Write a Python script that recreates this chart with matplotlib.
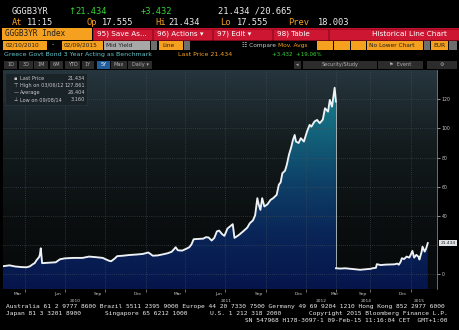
import numpy as np
import pandas as pd
import matplotlib
matplotlib.use("Agg")
import matplotlib.pyplot as plt
from matplotlib.patches import Rectangle, PathPatch
from matplotlib.path import Path
from matplotlib.colors import LinearSegmentedColormap

# --- data (GGGB3YR, mid yield) ---
dates_before = [
    "2010-02-10", "2010-02-25", "2010-03-10", "2010-03-25", "2010-04-05", "2010-04-12",
    "2010-04-19", "2010-04-23", "2010-04-28", "2010-05-03", "2010-05-05", "2010-05-07",
    "2010-05-10", "2010-05-25", "2010-06-10", "2010-06-20", "2010-07-01", "2010-07-20",
    "2010-08-10", "2010-08-25", "2010-09-10", "2010-09-25", "2010-10-08", "2010-10-14",
    "2010-10-22", "2010-10-28", "2010-11-10", "2010-11-25", "2010-12-10", "2010-12-25",
    "2011-01-07", "2011-01-17", "2011-01-28", "2011-02-10", "2011-02-20", "2011-03-01",
    "2011-03-07", "2011-03-10", "2011-03-15", "2011-03-25", "2011-04-05", "2011-04-10",
    "2011-04-15", "2011-04-20", "2011-05-01", "2011-05-12", "2011-05-18", "2011-05-24",
    "2011-05-31", "2011-06-06", "2011-06-12", "2011-06-17", "2011-06-24", "2011-06-29",
    "2011-07-06", "2011-07-18", "2011-07-22", "2011-08-01", "2011-08-10", "2011-08-20",
    "2011-08-26", "2011-09-02", "2011-09-07", "2011-09-12", "2011-09-15", "2011-09-19",
    "2011-09-23", "2011-09-28", "2011-10-05", "2011-10-12", "2011-10-18", "2011-10-26",
    "2011-10-31", "2011-11-04", "2011-11-08", "2011-11-14", "2011-11-18", "2011-11-23",
    "2011-11-28", "2011-12-02", "2011-12-06", "2011-12-09", "2011-12-15", "2011-12-20",
    "2011-12-27", "2012-01-03", "2012-01-09", "2012-01-13", "2012-01-20", "2012-01-26",
    "2012-02-01", "2012-02-08", "2012-02-13", "2012-02-20", "2012-02-24", "2012-02-29",
    "2012-03-06", "2012-03-09",
]
yield_before = [
    5.6, 6.2, 5.4, 5.0, 4.9, 5.5,
    7.0, 7.7, 10.0, 11.8, 13.5, 17.9,
    7.7, 8.0, 8.3, 10.4, 11.0, 11.3,
    11.3, 12.2, 11.8, 11.3, 9.5, 9.0,
    10.8, 12.5, 12.8, 13.3, 13.6, 14.0,
    15.0, 12.8, 13.0, 13.8, 14.5, 15.5,
    17.5, 18.6, 16.5, 16.3, 17.8, 18.6,
    20.5, 24.1, 24.3, 24.5, 25.5, 25.3,
    23.2, 25.0, 29.5, 30.0, 27.5, 26.4,
    31.4, 34.4, 25.0, 27.0, 29.3, 32.0,
    35.1, 37.0, 40.5, 52.2, 48.0, 44.2,
    52.2, 46.5, 48.0, 51.0, 52.2, 54.5,
    61.5, 63.0, 69.3, 71.0, 75.0, 82.0,
    87.0, 92.0, 95.5, 91.0, 90.0, 93.3,
    91.0, 97.8, 102.4, 101.2, 104.7, 105.8,
    103.6, 106.0, 113.8, 111.5, 119.5, 114.9,
    127.861, 118.4,
]
dates_after = [
    "2014-07-15", "2014-07-25", "2014-08-05", "2014-08-15", "2014-08-25", "2014-09-08",
    "2014-09-20", "2014-10-01", "2014-10-08", "2014-10-14", "2014-10-16", "2014-10-25",
    "2014-11-05", "2014-11-15", "2014-11-25", "2014-12-02", "2014-12-05", "2014-12-09",
    "2014-12-12", "2014-12-17", "2014-12-23", "2014-12-29", "2015-01-02", "2015-01-05",
    "2015-01-09", "2015-01-14", "2015-01-19", "2015-01-21", "2015-01-26", "2015-01-28",
    "2015-02-02", "2015-02-05", "2015-02-09",
]
yield_after = [
    4.2, 4.0, 4.2, 3.9, 3.6, 3.16,
    3.5, 3.8, 4.3, 4.5, 7.0, 6.4,
    6.7, 6.8, 6.9, 7.4, 6.6, 8.5,
    11.1, 10.5, 12.2, 11.5, 14.0, 16.1,
    11.5, 13.4, 12.0, 10.2, 15.5, 19.0,
    15.6, 17.5, 21.434,
]

month_labels = ["Mar", "Jun", "Sep", "Dec", "Mar", "Jun", "Sep", "Dec", "Mar", "Sep", "Dec"]
month_label_dates = ["2010-03-15", "2010-06-15", "2010-09-15", "2010-12-15", "2011-03-15",
                     "2011-06-15", "2011-09-15", "2011-12-15", "2012-03-05", "2014-09-15",
                     "2014-12-15"]
grid_dates = ["2010-04-01", "2010-07-01", "2010-10-01", "2011-01-01", "2011-04-01",
              "2011-07-01", "2011-10-01", "2012-01-01", "2012-03-09", "2014-10-01",
              "2015-01-01"]
year_labels = ["2010", "2011", "2012", "2014", "2015"]
year_label_dates = ["2010-07-24", "2011-07-02", "2012-02-04", "2014-09-22", "2015-01-20"]

yticks = [0, 40, 60, 80, 100, 120]

# --- broken time axis: the 2012-2014 hole is squeezed out ---
start = pd.Timestamp(dates_before[0])
gap_from = pd.Timestamp(dates_before[-1])
gap_to = pd.Timestamp(dates_after[0])


def to_x(ds):
    out = []
    for d in pd.to_datetime(ds):
        if d <= gap_from:
            out.append((d - start).days)
        else:
            out.append((gap_from - start).days + (d - gap_to).days)
    return np.array(out, dtype=float)


x_before = to_x(dates_before)
x_after = to_x(dates_after)
x = np.concatenate([x_before, x_after])
y = np.array(yield_before + yield_after)

W, H = 460, 330
fig = plt.figure(figsize=(4.6, 3.3), dpi=100, facecolor="black")

ORANGE = "#f5a01e"
GREEN = "#36d436"
WHITE = "#ececec"
MONO = "DejaVu Sans Mono"


def T(px, py, s, color=WHITE, size=5, family="DejaVu Sans", **kw):
    fig.text(px / W, 1 - py / H, s, color=color, fontsize=size, family=family,
             va="center", **kw)


def box(x0, y0, x1, y1, fc, ec="none", lw=0.5, z=1):
    fig.add_artist(Rectangle((x0 / W, 1 - y1 / H), (x1 - x0) / W, (y1 - y0) / H,
                             transform=fig.transFigure, facecolor=fc, edgecolor=ec,
                             linewidth=lw, zorder=z))


# header rows
T(12, 11, "GGGB3YR", WHITE, 6.3, MONO)
T(68, 11, "\u2191", GREEN, 6.3)
T(75, 11, "21.434", GREEN, 6.3, MONO)
T(141, 11, "+3.432", GREEN, 6.3, MONO)
T(218, 11, "21.434 /20.665", WHITE, 6.3, MONO)
for px, s, c in [(12, "At", ORANGE), (27, "11:15", WHITE), (87, "Op", ORANGE),
                 (102, "17.555", WHITE), (155, "Hi", ORANGE), (168, "21.434", WHITE),
                 (220, "Lo", ORANGE), (237, "17.555", WHITE), (288, "Prev", ORANGE),
                 (318, "18.003", WHITE)]:
    T(px, 22.5, s, c, 6.3, MONO)

box(2, 28, 92, 40, ORANGE)
T(5, 34, "GGGB3YR Index", "#202020", 5.6, MONO)
box(93, 28, 460, 40, "#c3102c")
for x0, x1 in [(93, 152), (153, 212), (213, 272), (273, 328), (329, 460)]:
    box(x0, 28.5, x1, 39.5, "#cc1632", ec="#8a0a1c", lw=0.4)
for px, s in [(97, "95) Save As..."), (157, "96) Actions \u25be"), (217, "97) Edit \u25be"),
              (277, "98) Table")]:
    T(px, 34, s, "white", 5.2)
T(447, 34, "Historical Line Chart", "white", 5.3, ha="right")

# input row
box(3, 41, 47, 49.5, ORANGE)
T(6, 45.2, "02/10/2010", "#202020", 4.2)
T(52, 45.2, "-", WHITE, 4.5)
box(62, 41, 103, 49.5, ORANGE)
T(64, 45.2, "02/09/2015", "#202020", 4.2)
box(104, 41, 150, 49.5, "#a8a8a8")
T(106, 45.2, "Mid Yield", "#202020", 4.2)
box(151, 41, 157, 49.5, "#6e6e6e")
box(159, 41, 183, 49.5, ORANGE)
T(162, 45.2, "Line", "#202020", 4.2)
box(184, 41, 190, 49.5, "#6e6e6e")
T(242, 45.2, "\u2637 Compare", "#c8c8c8", 4.2)
T(278, 45.2, "Mov. Avgs", ORANGE, 4.2)
for x0, x1 in [(317, 333), (334, 350), (351, 366)]:
    box(x0, 41, x1, 49.5, ORANGE)
box(367, 41, 423, 49.5, ORANGE)
T(369, 45.2, "No Lower Chart", "#202020", 4.2)
box(424, 41, 430, 49.5, "#6e6e6e")
box(431, 41, 448, 49.5, ORANGE)
T(433, 45.2, "EUR", "#202020", 4.2)
box(449, 41, 457, 49.5, "#6e6e6e")

T(4, 54.5, "Greece Govt Bond 3 Year Acting as Benchmark", "#62c6cc", 4.5)
T(178, 54.5, "Last Price 21.434", ORANGE, 4.5)
T(272, 54.5, "+3.432  +19.06%", GREEN, 4.0)

# period buttons
for x0, x1, s in [(4, 17, "1D"), (19, 33, "3D"), (34, 48, "1M"), (50, 63, "6M"),
                  (65, 80, "YTD"), (82, 94, "1Y"), (97, 110, "5Y"), (111, 127, "Max"),
                  (128, 152, "Daily \u25be")]:
    box(x0, 61, x1, 68.5, "#1f5d9c" if s == "5Y" else "#2c2c2c")
    T((x0 + x1) / 2, 64.8, s, "white" if s == "5Y" else "#b0b0b0", 3.6, ha="center")
for x0, x1, s in [(294, 301, "\u25c2"), (303, 377, "Security/Study"), (378, 423, "\u2691  Event"),
                  (427, 457, "\u2699")]:
    box(x0, 61, x1, 68.5, "#2c2c2c")
    T((x0 + x1) / 2, 64.8, s, "#b0b0b0", 3.6, ha="center")

# --- chart ---
x_max = 988
ax = fig.add_axes([3 / W, 1 - 289 / H, 434 / W, 219 / H])
ax.set_facecolor("black")

bg = LinearSegmentedColormap.from_list("bg", ["#07090a", "#0b0f10", "#141c1e", "#26363e"])
ax.imshow(np.linspace(0, 1, 256).reshape(-1, 1), extent=[0, x_max, -10, 140],
          aspect="auto", cmap=bg, origin="lower", zorder=0)

fill_cmap = LinearSegmentedColormap.from_list(
    "fill", ["#06154c", "#0a2558", "#0e4268", "#14687e", "#1a8896"])
grad = ax.imshow(np.linspace(0, 1, 256).reshape(-1, 1), extent=[0, x_max, -10, 140],
                 aspect="auto", cmap=fill_cmap, origin="lower", zorder=1)
verts = np.vstack([[x[0], -10], np.column_stack([x, y]), [x[-1], -10], [x[0], -10]])
clip = PathPatch(Path(verts), facecolor="none", edgecolor="none", transform=ax.transData)
ax.add_patch(clip)
grad.set_clip_path(clip)

for yv in range(0, 140, 20):
    ax.axhline(yv, color="#46535a", lw=0.5, ls=(0, (1, 2)), zorder=2)
gx = to_x(grid_dates)
for xv in gx:
    ax.axvline(xv, color="#46535a", lw=0.5, ls=(0, (1, 2)), zorder=2)

# thin connector across the squeezed gap, then the two data stretches
ax.plot([x_before[-1], x_after[0]], [yield_before[-1], yield_after[0]],
        color="#b8c4c8", lw=0.6, zorder=3)
ax.plot(x_before, yield_before, color="#eef2f4", lw=1.35, zorder=4)
ax.plot(x_after, yield_after, color="#eef2f4", lw=1.35, zorder=4)

ax.set_xlim(0, x_max)
ax.set_ylim(-10, 140)
ax.set_xticks(gx)
ax.set_xticklabels([])
ax.yaxis.tick_right()
ax.set_yticks(yticks)
ax.set_yticklabels([str(v) for v in yticks])
ax.tick_params(axis="y", colors="#c8c8c8", labelsize=3.3, length=2, width=0.5, pad=1.5)
ax.tick_params(axis="x", colors="#9a9a9a", length=2, width=0.5)
for side in ["left", "top", "bottom"]:
    ax.spines[side].set_visible(False)
ax.spines["right"].set_color("#9a9a9a")
ax.spines["right"].set_linewidth(0.5)

for lx, s in zip(to_x(month_label_dates), month_labels):
    ax.text(lx, -0.012, s, transform=ax.get_xaxis_transform(), ha="center", va="top",
            color="#c8c8c8", fontsize=3.2)
for lx, s in zip(to_x(year_label_dates), year_labels):
    ax.text(lx, -0.045, s, transform=ax.get_xaxis_transform(), ha="center", va="top",
            color="#c8c8c8", fontsize=3.2)

ax.annotate("21.434", xy=(1.0, yield_after[-1]), xycoords=("axes fraction", "data"),
            xytext=(2.5, 0), textcoords="offset points", va="center", ha="left",
            fontsize=3.2, color="#202020",
            bbox=dict(boxstyle="square,pad=0.25", fc="#dfe3e6", ec="none"))

# stats box top-left
box(5, 73, 87, 105, "#1a2328", ec="#2e3a40", lw=0.4, z=5)
stats = [("\u25aa", "Last Price", "21.434"), ("\u22a4", "High on 03/06/12", "127.861"),
         ("\u2014", "Average", "26.404"), ("\u22a5", "Low on 09/08/14", "3.160")]
for i, (ic, lab, val) in enumerate(stats):
    py = 78.5 + i * 7
    fig.text(14 / W, 1 - py / H, ic, color="#c8c8c8", fontsize=3.6, va="center", zorder=6)
    fig.text(20 / W, 1 - py / H, lab, color="#c8c8c8", fontsize=3.6, va="center", zorder=6)
    fig.text(85 / W, 1 - py / H, val, color="#c8c8c8", fontsize=3.6, va="center",
             ha="right", zorder=6)

# footer
T(6, 306.5, "Australia 61 2 9777 8600 Brazil 5511 2395 9000 Europe 44 20 7330 7500 "
  "Germany 49 69 9204 1210 Hong Kong 852 2977 6000", WHITE, 4.5, MONO)
T(6, 313.3, "Japan 81 3 3201 8900", WHITE, 4.5, MONO)
T(105, 313.3, "Singapore 65 6212 1000", WHITE, 4.5, MONO)
T(210, 313.3, "U.S. 1 212 318 2000", WHITE, 4.5, MONO)
T(448, 313.3, "Copyright 2015 Bloomberg Finance L.P.", WHITE, 4.5, MONO, ha="right")
T(448, 320, "SN 547968 H178-3097-1 09-Feb-15 11:16:04 CET  GMT+1:00", WHITE, 4.5, MONO,
  ha="right")

fig.savefig("out.png", dpi=100, facecolor="black")
